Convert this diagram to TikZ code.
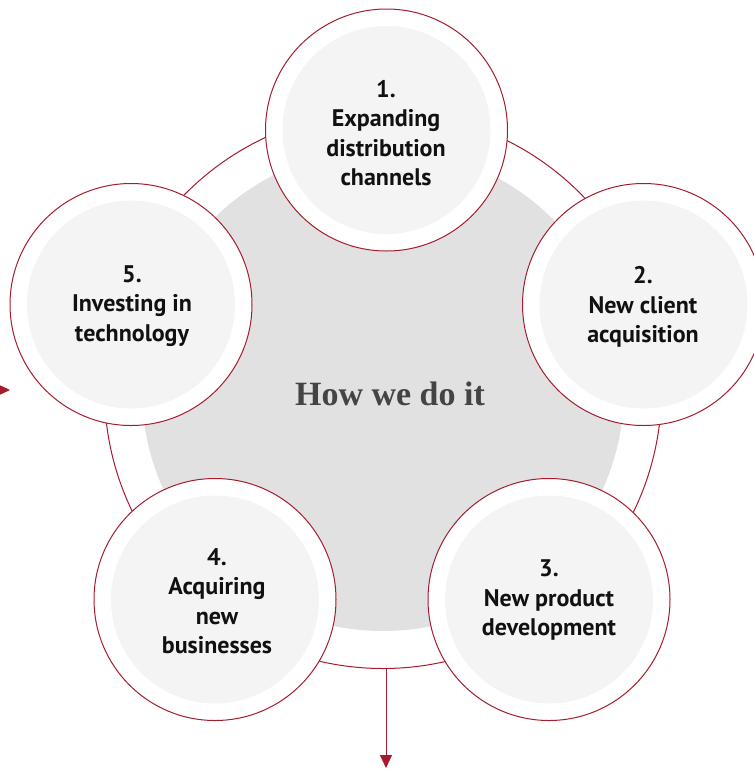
\documentclass[tikz,border=0pt]{standalone}
\usepackage{fontspec}
\setmainfont{PT Sans}
\newfontfamily\headfont{Liberation Serif}
\usetikzlibrary{arrows.meta}

\definecolor{accent}{RGB}{166,28,46}
\definecolor{coregray}{RGB}{225,225,225}
\definecolor{stagefill}{RGB}{244,244,244}
\definecolor{ink}{RGB}{17,17,17}
\definecolor{headink}{RGB}{68,68,68}

\tikzset{
  ring/.style={circle, draw=accent, line width=1pt, fill=white, minimum size=557pt, inner sep=0pt},
  core/.style={circle, fill=coregray, minimum size=482pt, inner sep=0pt},
  stage/.style={circle, draw=accent, line width=1pt, fill=white, minimum size=242pt, inner sep=0pt},
  stagetext/.style={align=center, inner sep=0pt, text=ink, font=\fontsize{24}{29.5}\selectfont\bfseries},
  headtext/.style={inner sep=0pt, text=headink, font=\headfont\fontsize{34}{40}\selectfont\bfseries},
  arr/.style={draw=accent, line width=1pt, -{Triangle[width=12pt,length=13pt]}, fill=accent}
}

\begin{document}
\begin{tikzpicture}[x=1pt,y=-1pt]
\useasboundingbox (0,0) rectangle (754,769);
\clip (0,0) rectangle (754,769);

% outer ring and grey core
\node[ring] (ring) at (383,390) {};
\node[core] (core) at (383,390) {};

% outgoing arrows
\coordinate (down) at (386,768);
\coordinate (leftfrom) at (-30,390);
\coordinate (lefttip) at (10,390);
\draw[arr] (ring.south -| down) -- (down);
\draw[arr] (leftfrom) -- (lefttip);

% five stages
\node[stage] (c1) at (386.5,130) {};
\node[stage] (c2) at (643.5,304.5) {};
\node[stage] (c3) at (549,599.5) {};
\node[stage] (c4) at (215,599.5) {};
\node[stage] (c5) at (131,304.5) {};
\foreach \c in {c1,c2,c3,c4,c5}
  \fill[stagefill] (\c.center) circle[radius=104pt];

\node[stagetext] (t1) at (386,133) {1.\\Expanding\\distribution\\channels};
\node[stagetext] (t2) at (643,307) {2.\\New client\\acquisition};
\node[stagetext] (t3) at (549,600) {3.\\New product\\development};
\node[stagetext] (t4) at (217,601) {4.\\Acquiring\\new\\businesses};
\node[stagetext] (t5) at (132,306) {5.\\Investing in\\technology};

% centre title
\node[headtext] (title) at (390,394) {How we do it};
\end{tikzpicture}
\end{document}
